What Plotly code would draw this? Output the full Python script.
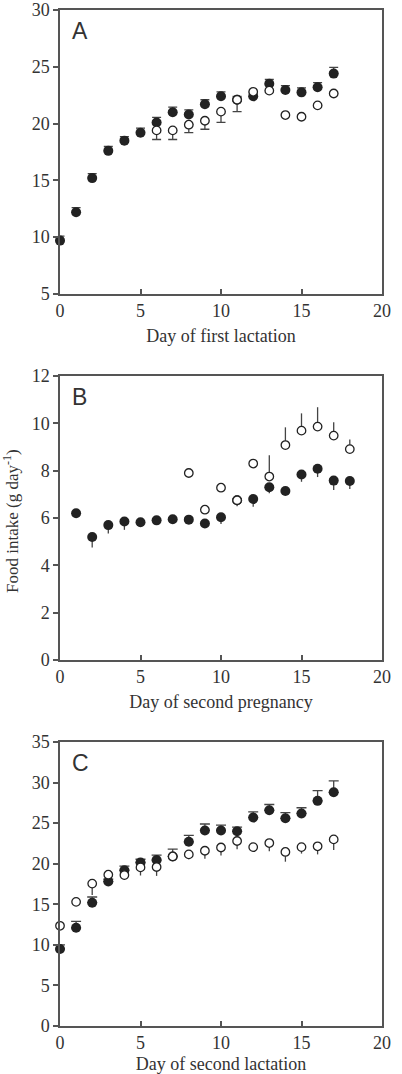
import plotly.graph_objects as go

# ---------------- data ----------------
days_a = list(range(0, 18))
a_filled = [9.7, 12.2, 15.2, 17.6, 18.5, 19.2, 20.1, 21.0, 20.8, 21.7, 22.4, 22.1, 22.4, 23.5, 22.95, 22.75, 23.2, 24.4]
a_filled_err = [0.4, 0.4, 0.4, 0.4, 0.35, 0.4, 0.45, 0.45, 0.4, 0.4, 0.4, 0.3, 0.3, 0.4, 0.4, 0.4, 0.4, 0.55]
days_a_open = list(range(6, 18))
a_open = [19.4, 19.4, 19.9, 20.25, 21.05, 22.1, 22.8, 22.9, 20.75, 20.6, 21.6, 22.65]
a_open_err = [0.8, 0.8, 0.7, 0.75, 0.95, 1.05, 0, 0, 0, 0, 0, 0]

days_b = list(range(1, 19))
b_filled = [6.2, 5.2, 5.7, 5.85, 5.82, 5.9, 5.95, 5.93, 5.77, 6.03, 6.75, 6.8, 7.3, 7.14, 7.84, 8.08, 7.58, 7.56]
b_filled_err = [0, 0.45, 0.35, 0.35, 0.15, 0.1, 0.1, 0.1, 0.1, 0.28, 0.2, 0.32, 0.25, 0.1, 0.31, 0.35, 0.4, 0.34]
days_b_open = list(range(8, 19))
b_open = [7.9, 6.35, 7.28, 6.75, 8.3, 7.75, 9.08, 9.69, 9.86, 9.48, 8.91]
b_open_err_plus = [0, 0, 0, 0, 0, 0.9, 0.75, 0.73, 0.82, 0.56, 0.41]
b_open_err_minus = [0, 0, 0, 0.25, 0, 0, 0, 0, 0, 0, 0]

days_c = list(range(0, 18))
c_filled = [9.5, 12.1, 15.2, 17.8, 19.2, 20.15, 20.45, 20.9, 22.7, 24.1, 24.1, 24.0, 25.7, 26.6, 25.6, 26.2, 27.75, 28.8]
c_filled_err = [0.5, 0.8, 0.7, 0.3, 0.5, 0.4, 0.6, 0.9, 0.8, 0.8, 0.65, 0.5, 0.7, 0.7, 0.7, 0.7, 1.25, 1.4]
c_open = [12.35, 15.3, 17.55, 18.65, 18.6, 19.55, 19.6, 20.9, 21.15, 21.6, 22.0, 22.8, 22.05, 22.55, 21.45, 22.05, 22.15, 23.0]
c_open_err = [0, 0, 1.4, 0.3, 0.6, 1.0, 1.1, 0.5, 0.6, 1.0, 1.0, 1.0, 0.6, 1.0, 1.2, 0.8, 1.0, 1.3]

panel_letters = ["A", "B", "C"]
x_titles = ["Day of first lactation", "Day of second pregnancy", "Day of second lactation"]
y_title = "Food intake (g day<sup>-1</sup>)"
y_ranges = [[5, 30], [0, 12], [0, 35]]
y_dticks = [5, 2, 5]

# ---------------- style ----------------
INK = "#222222"
AX = "#555555"
TXT = "#333333"
SERIF = "Liberation Serif, Times New Roman, serif"
SANS = "Liberation Sans, Arial, sans-serif"
x_title_standoffs = [9, 9, 14]

fig = go.Figure()


def filled(x, y, xa, ya, plus=None, minus=None, cap=4.5):
    eb = dict(type="data", symmetric=False,
              array=plus if plus is not None else [0] * len(x),
              arrayminus=minus if minus is not None else [0] * len(x),
              color="#444444", thickness=1.3, width=cap)
    return go.Scatter(x=x, y=y, xaxis=xa, yaxis=ya, mode="markers", cliponaxis=False,
                      marker=dict(size=10, color=INK, line=dict(width=0)),
                      error_y=eb, showlegend=False, hoverinfo="x+y")


def opened(x, y, xa, ya, plus=None, minus=None, cap=4.5):
    eb = dict(type="data", symmetric=False,
              array=plus if plus is not None else [0] * len(x),
              arrayminus=minus if minus is not None else [0] * len(x),
              color="#444444", thickness=1.3, width=cap)
    return go.Scatter(x=x, y=y, xaxis=xa, yaxis=ya, mode="markers", cliponaxis=False,
                      marker=dict(size=8.5, color="white", line=dict(width=1.3, color=INK)),
                      error_y=eb, showlegend=False, hoverinfo="x+y")


# Panel A
fig.add_trace(filled(days_a, a_filled, "x", "y", plus=a_filled_err, cap=4.5))
fig.add_trace(opened(days_a_open, a_open, "x", "y", minus=a_open_err, cap=4.5))
# Panel B
fig.add_trace(filled(days_b, b_filled, "x2", "y2", minus=b_filled_err, cap=0))
fig.add_trace(opened(days_b_open, b_open, "x2", "y2", plus=b_open_err_plus, minus=b_open_err_minus, cap=0))
# Panel C
fig.add_trace(filled(days_c, c_filled, "x3", "y3", plus=c_filled_err, cap=5))
fig.add_trace(opened(days_c, c_open, "x3", "y3", minus=c_open_err, cap=0))

domains = [[0.7205, 1.0], [0.3602, 0.6398], [0.0, 0.2795]]

layout = dict(
    width=402, height=1074,
    margin=dict(l=60, r=20, t=10, b=48),
    paper_bgcolor="white", plot_bgcolor="white",
    showlegend=False,
    font=dict(family=SERIF, size=18, color=TXT),
)

for i in range(3):
    n = "" if i == 0 else str(i + 1)
    layout["xaxis" + n] = dict(
        domain=[0, 1], anchor="y" + n, range=[0, 20], tickvals=[0, 5, 10, 15, 20],
        ticks="inside", ticklen=5, tickwidth=1.5, tickcolor=AX,
        showline=True, linewidth=1.5, linecolor=AX, mirror=True,
        showgrid=False, zeroline=False, automargin=False,
        tickfont=dict(family=SERIF, size=18, color=TXT),
        title=dict(text=x_titles[i], font=dict(family=SERIF, size=18, color=TXT),
                   standoff=x_title_standoffs[i]),
    )
    layout["yaxis" + n] = dict(
        domain=domains[i], anchor="x" + n, range=y_ranges[i], dtick=y_dticks[i], tick0=0,
        ticks="outside", ticklen=5, tickwidth=1.5, tickcolor=AX,
        showline=True, linewidth=1.5, linecolor=AX, mirror=True,
        showgrid=False, zeroline=False, automargin=False,
        tickfont=dict(family=SERIF, size=18, color=TXT),
    )
    # overlay axis to draw the inner half of the crossing y ticks
    layout["yaxis" + str(i + 4)] = dict(
        domain=domains[i], anchor="x" + n, overlaying="y" + n, side="left",
        range=y_ranges[i], dtick=y_dticks[i], tick0=0,
        ticks="inside", ticklen=5, tickwidth=1.5, tickcolor=AX,
        showticklabels=False, showline=False, showgrid=False, zeroline=False,
        automargin=False,
    )

annotations = []
for i, letter in enumerate(panel_letters):
    n = "" if i == 0 else str(i + 1)
    annotations.append(dict(
        text=letter, xref="x" + n + " domain", yref="y" + n + " domain",
        x=0.03, y=0.925, xanchor="left", yanchor="middle", showarrow=False,
        font=dict(family=SANS, size=23, color=TXT)))

annotations.append(dict(
    text=y_title, xref="paper", yref="y2 domain", x=-0.152, y=0.49,
    xanchor="center", yanchor="middle", textangle=-90, showarrow=False,
    font=dict(family=SERIF, size=17, color=TXT)))

layout["annotations"] = annotations
fig.update_layout(**layout)

fig.write_html("out.html")
